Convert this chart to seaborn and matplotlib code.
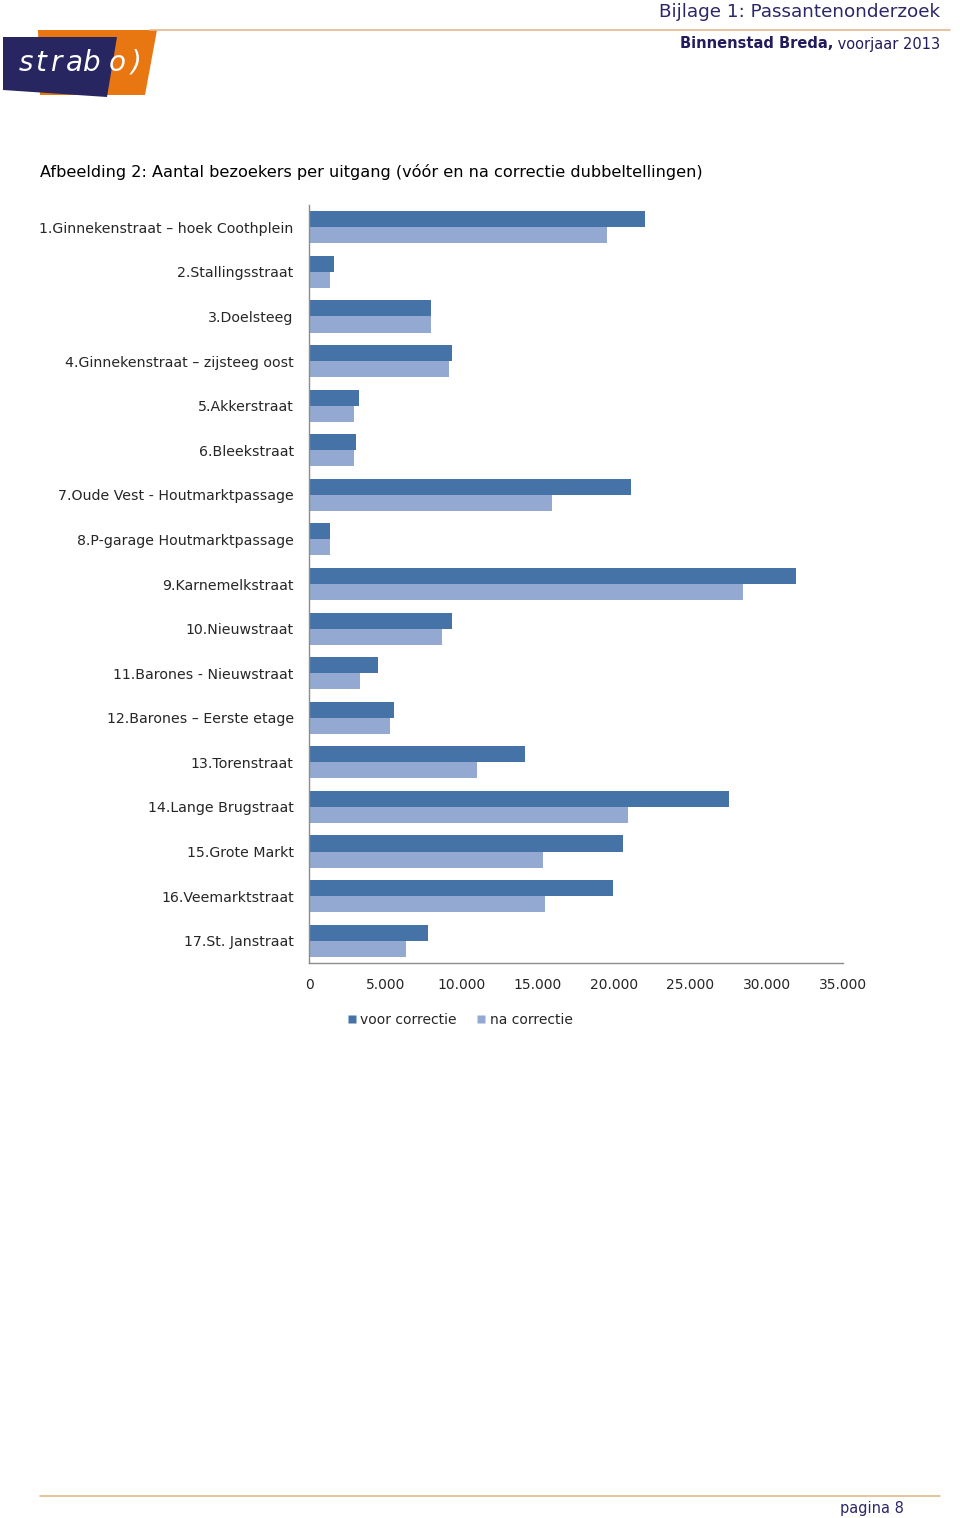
import pandas as pd
import numpy as np
import matplotlib.pyplot as plt
import seaborn as sns
from matplotlib.patches import Polygon
from matplotlib.lines import Line2D

uitgangen = [
    '1.Ginnekenstraat – hoek Coothplein', '2.Stallingsstraat', '3.Doelsteeg',
    '4.Ginnekenstraat – zijsteeg oost', '5.Akkerstraat', '6.Bleekstraat',
    '7.Oude Vest - Houtmarktpassage', '8.P-garage Houtmarktpassage',
    '9.Karnemelkstraat', '10.Nieuwstraat', '11.Barones - Nieuwstraat',
    '12.Barones – Eerste etage', '13.Torenstraat', '14.Lange Brugstraat',
    '15.Grote Markt', '16.Veemarktstraat', '17.St. Janstraat',
]
voor_correctie = [22000, 1650, 8000, 9400, 3250, 3050, 21100, 1400, 31900,
                  9400, 4550, 5550, 14150, 27500, 20600, 19900, 7800]
na_correctie = [19550, 1400, 8000, 9200, 2950, 2950, 15950, 1400, 28450,
                8700, 3350, 5300, 11000, 20900, 15350, 15450, 6350]
series = ['voor correctie', 'na correctie']
kleuren = ['#4572A7', '#93A9D1']

df = pd.concat([
    pd.DataFrame({'uitgang': uitgangen, 'aantal': voor_correctie, 'serie': series[0]}),
    pd.DataFrame({'uitgang': uitgangen, 'aantal': na_correctie, 'serie': series[1]}),
])

sns.set_style('white')
plt.rcParams['font.family'] = ['DejaVu Sans']

W, H = 960, 1518
fig = plt.figure(figsize=(W / 100, H / 100), dpi=100)

# decoratie in pixelcoordinaten
deco = fig.add_axes([0, 0, 1, 1])
deco.set_xlim(0, W)
deco.set_ylim(H, 0)
deco.axis('off')

deco.plot([150, 950], [30, 30], color='#E3B98A', lw=1.2)
deco.add_patch(Polygon([(38, 30), (157, 30), (145, 95), (40, 95)], closed=True,
                       facecolor='#E87711', edgecolor='none'))
deco.add_patch(Polygon([(3, 37), (117, 37), (107, 97), (3, 90)], closed=True,
                       facecolor='#272660', edgecolor='none'))
for letter, xc in zip('strabo)', [26, 41, 56, 74, 92, 117, 136]):
    deco.text(xc, 63, letter, color='white', fontsize=20, style='italic',
              va='center', ha='center')

deco.text(940, 12, 'Bijlage 1: Passantenonderzoek', color='#2B2768', fontsize=13.2,
          ha='right', va='center')
t2 = deco.text(940, 44, ' voorjaar 2013', color='#221C5C', fontsize=10.5,
               ha='right', va='center')
deco.annotate('Binnenstad Breda,', xy=(0, 0.5), xycoords=t2, color='#221C5C',
              fontsize=10.5, fontweight='bold', ha='right', va='center')

deco.text(40, 172, 'Afbeelding 2: Aantal bezoekers per uitgang (vóór en na correctie dubbeltellingen)',
          color='black', fontsize=11.6, ha='left', va='center')

deco.plot([40, 940], [1496, 1496], color='#E3B98A', lw=1.2)
deco.text(872, 1509, 'pagina 8', color='#2B2768', fontsize=10.5, ha='center', va='center')

# grafiek
ax = fig.add_axes([309 / W, 1 - 963 / H, (843 - 309) / W, (963 - 205) / H])
sns.barplot(data=df, y='uitgang', x='aantal', hue='serie', palette=kleuren,
            orient='h', width=0.72, saturation=1, linewidth=0, ax=ax, legend=False)
ax.set_xlim(0, 35000)
ax.set_xticks(np.arange(0, 35001, 5000))
ax.set_xticklabels(['0'] + [f'{v:,}'.replace(',', '.') for v in range(5000, 35001, 5000)],
                   fontsize=10)
ax.tick_params(axis='y', labelsize=10.2, length=0, pad=11)
ax.tick_params(axis='x', length=0, pad=11)
ax.set_xlabel('')
ax.set_ylabel('')
sns.despine(ax=ax)
for s in ['left', 'bottom']:
    ax.spines[s].set_color('#8C8C8C')
    ax.spines[s].set_linewidth(1)

handles = [Line2D([], [], marker='s', color='none', markerfacecolor=k,
                  markeredgecolor='none', markersize=6) for k in kleuren]
fig.legend(handles, series, loc='center', bbox_to_anchor=(460 / W, 1 - 1020 / H),
           ncol=2, frameon=False, fontsize=10, handlelength=0.6,
           handletextpad=0.3, columnspacing=1.5)

fig.savefig('out.png', dpi=100)
